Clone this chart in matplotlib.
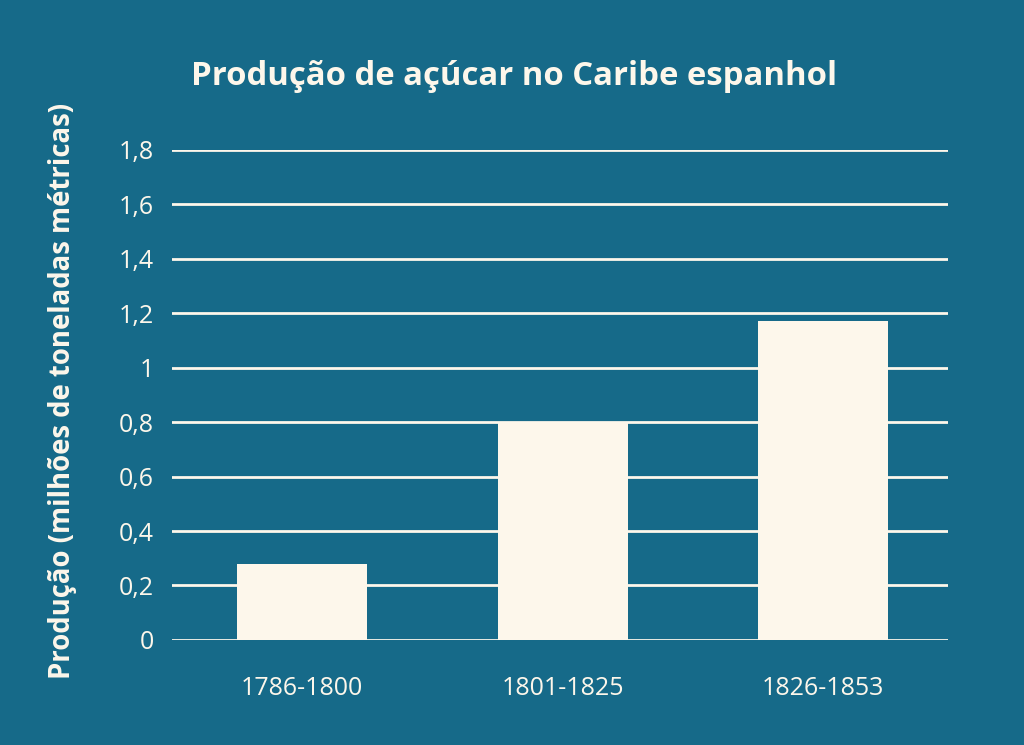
import matplotlib

matplotlib.use("Agg")
import matplotlib.pyplot as plt

periods = ["1786-1800", "1801-1825", "1826-1853"]
production = [0.28, 0.80, 1.17]
y_ticks = [0, 0.2, 0.4, 0.6, 0.8, 1.0, 1.2, 1.4, 1.6, 1.8]
y_tick_labels = ["0", "0,2", "0,4", "0,6", "0,8", "1", "1,2", "1,4", "1,6", "1,8"]

BG = "#166a89"
CREAM = "#fdf7eb"

plt.rcParams["font.family"] = ["Open Sans", "DejaVu Sans"]

fig = plt.figure(figsize=(10.24, 7.45), dpi=100, facecolor=BG)
ax = fig.add_axes([0.168, 0.141, 0.758, 0.658])
ax.set_facecolor(BG)

for yv in y_ticks:
    ax.axhline(yv, color=CREAM, linewidth=2, zorder=1)

x = list(range(len(periods)))
ax.bar(x, production, width=0.5, color=CREAM, zorder=2)

ax.set_xlim(-0.5, 2.48)
ax.set_ylim(0, 1.8)
ax.set_yticks(y_ticks)
ax.set_yticklabels(y_tick_labels)
ax.set_xticks(x)
ax.set_xticklabels(periods)
ax.tick_params(axis="both", length=0, colors=CREAM, labelsize=18)
ax.tick_params(axis="y", pad=13)
ax.tick_params(axis="x", pad=26)
for s in ax.spines.values():
    s.set_visible(False)

fig.text(0.061, 0.475, "Produção (milhões de toneladas métricas)", rotation=90,
         ha="center", va="center", color=CREAM, fontsize=19.8, fontweight="bold")
fig.text(0.502, 0.897, "Produção de açúcar no Caribe espanhol",
         ha="center", va="center", color=CREAM, fontsize=23.7, fontweight="bold")

fig.savefig("out.png", dpi=100, facecolor=BG)
